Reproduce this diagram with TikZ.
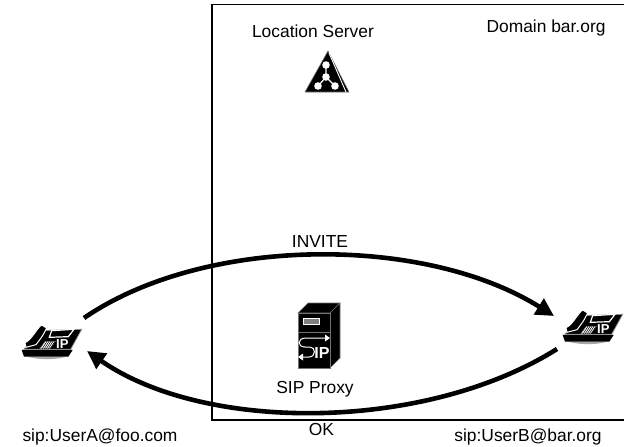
\documentclass[tikz,border=0pt]{standalone}
\usepackage{fontspec}
\setmainfont{Liberation Sans}
\usetikzlibrary{arrows.meta}
\tikzset{
  lbl/.style={inner sep=0pt,anchor=base,font=\fontsize{17.4}{20}\selectfont,text=black},
  flow/.style={line width=4.6pt,-{Triangle[length=18pt,width=18pt]}},
  ipphone/.pic={
    \begin{scope}[scale=0.3333]
      \fill[black!35] (80,170) .. controls (130,182) and (170,178) .. (200,170) -- cycle;
      \fill[black] (65,150) -- (218,150) -- (205,170) -- (72,170) -- cycle;
      \filldraw[fill=black,draw=black!45,line width=0.8pt] (72,148) -- (120,92) -- (245,88) -- (212,148) -- cycle;
      \filldraw[fill=black,draw=white,line width=1.2pt] (155,92) -- (222,88) -- (205,110) -- (148,112) -- cycle;
      \filldraw[fill=white,draw=black!50,line width=0.5pt] (120,146) -- (136,124) -- (166,124) -- (150,146) -- cycle;
      \foreach \k in {127,133,139,145,151,157}{\draw[black,line width=0.5pt] (\k,146) -- (\k+14,124);}
      \filldraw[fill=black,draw=white,line width=1pt] (75,128) .. controls (95,120) and (110,85) .. (125,75) -- (140,84) .. controls (130,105) and (125,112) .. (108,134) -- (78,142) -- cycle;
      \node[inner sep=0pt,text=white,font=\fontsize{13}{13}\selectfont\bfseries] at (187,133) {IP};
    \end{scope}
  }
}
\begin{document}
\begin{tikzpicture}[x=1pt,y=-1pt]
\useasboundingbox (0,0) rectangle (624,447);
\fill[white] (0,0) rectangle (624,447);
% domain (open on the right, running to the edge)
\coordinate (tr) at (624,4.5);
\coordinate (tl) at (212,4.5);
\coordinate (bl) at (212,420);
\coordinate (br) at (624,420);
\draw[line width=1.3pt] (tr) -- (tl) -- (bl) -- (br);
% phones
\pic at (0,300) {ipphone};
\pic at (541,285) {ipphone};
\coordinate (ainv) at (84,318);
\coordinate (binv) at (554,316);
\coordinate (bok) at (557,349);
\coordinate (aok) at (87,351);
\draw[flow] (ainv) .. controls (205,235) and (425,235) .. (binv);
\draw[flow] (bok) .. controls (425,432) and (205,433) .. (aok);
% location server
\fill[black] (328,51) -- (305,92) -- (349,92) -- cycle;
\draw[black!55,line width=0.6pt,line join=round] (328,51) -- (305,92) -- (349,92) -- cycle;
\draw[white,line width=0.9pt] (329,53) -- (346,92);
\draw[white,line width=1.2pt] (326,65) -- (326,77) (318,86) -- (326,77) -- (335,86);
\fill[white] (326,65) circle (3.8) (326,77) circle (3.8) (318,86) circle (3.8) (335,86) circle (3.8);
% sip proxy
\filldraw[fill=black,draw=black!55,line width=0.6pt] (298,313) -- (308,303) -- (340,303) -- (330,313) -- cycle;
\filldraw[fill=black,draw=black!55,line width=0.6pt] (330,313) -- (340,303) -- (340,358) -- (330,368) -- cycle;
\filldraw[fill=black,draw=black!55,line width=0.6pt] (298,313) rectangle (330,368);
\draw[black!55,line width=0.6pt] (298,332) -- (330,332);
\filldraw[fill=black!50,draw=white,line width=0.8pt] (303.5,318) rectangle (319,324);
\draw[white,line width=1pt] (326,338) -- (306,338) .. controls (297,338) and (297,347) .. (305,347) -- (310,347) .. controls (316,347) and (316,357) .. (309,357) -- (302,357);
\fill[white] (330,338) -- (325,334.5) -- (325,341.5) -- cycle (298,357) -- (303,353.5) -- (303,360.5) -- cycle;
\node[inner sep=0pt,text=white,font=\fontsize{16}{16}\selectfont\bfseries] at (322,352.5) {IP};
% text
\node[lbl] (loc) at (313,37) {Location Server};
\node[lbl] (dom) at (546,32) {Domain bar.org};
\node[lbl] (inv) at (320,247) {INVITE};
\node[lbl] (sip) at (315,393) {SIP Proxy};
\node[lbl] (ok) at (321.5,435) {OK};
\node[lbl] (ua) at (100,441) {sip:UserA@foo.com};
\node[lbl] (ub) at (528,441) {sip:UserB@bar.org};
\end{tikzpicture}
\end{document}
